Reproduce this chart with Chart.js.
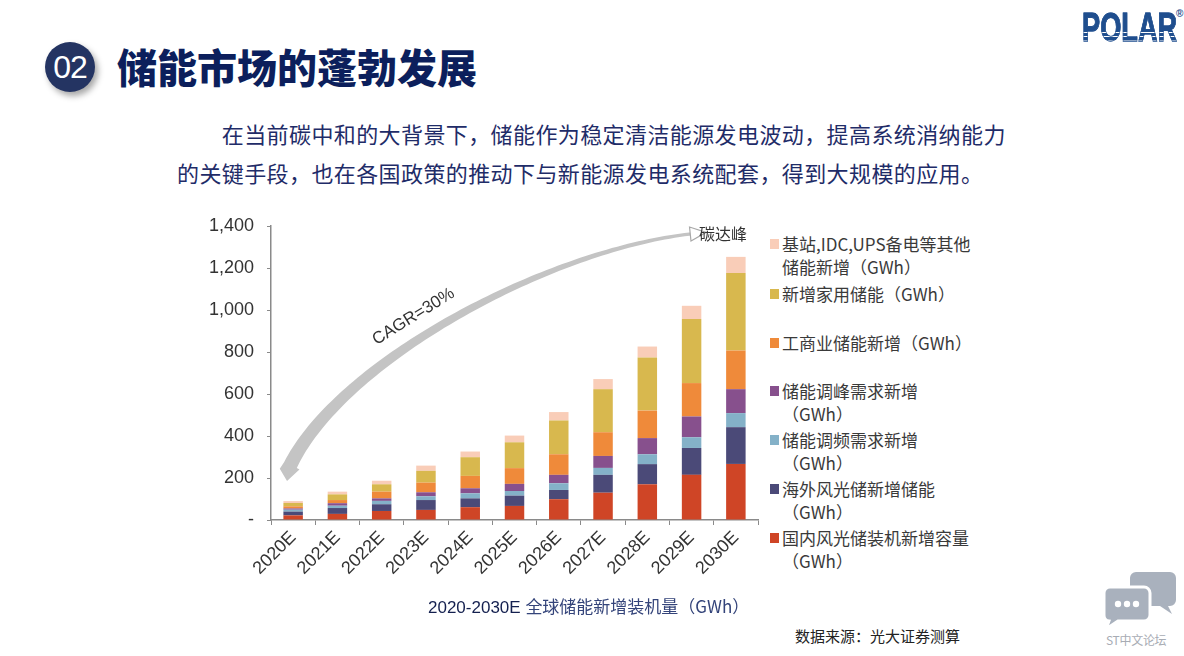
<!DOCTYPE html>
<html>
<head>
<meta charset="utf-8">
<script src="https://cdn.jsdelivr.net/npm/chart.js@4.4.1/dist/chart.umd.min.js"></script>
<style>
  html, body { margin:0; padding:0; background:#fff; }
  body { width:1184px; height:656px; position:relative; overflow:hidden; font-family:"Noto Sans CJK SC","Noto Sans",sans-serif; }
  .abs { position:absolute; }
  #badge { left:45px; top:42px; width:50px; height:50px; border-radius:50%; background:#243462;
           box-shadow:3px 4px 6px rgba(0,0,0,0.35); color:#fff; font:32px "Liberation Sans",Arial,sans-serif;
           display:flex; align-items:center; justify-content:center; letter-spacing:-1px; }
  #title { left:117px; top:44px; font-size:40px; line-height:44px; font-weight:900; color:#0c1f5c; letter-spacing:0px; }
  #para { left:177px; top:114px; font-size:22px; line-height:39px; color:#1f2c68; letter-spacing:0.4px; white-space:nowrap; }
  #logo { left:1082px; top:5px; font:900 40px "Liberation Sans",Arial,sans-serif; letter-spacing:0px;
          transform:scaleX(0.68); transform-origin:left top; line-height:44px;
          -webkit-text-stroke:0.8px #1f4e8e;
          background:linear-gradient(to bottom,#1f4e8e 0px,#1f4e8e 27px,#fff 27px,#fff 28.5px,#1f4e8e 28.5px,#1f4e8e 31px,#fff 31px,#fff 32.5px,#1f4e8e 32.5px,#1f4e8e 35px,#fff 35px,#fff 36.5px,#1f4e8e 36.5px);
          -webkit-background-clip:text; background-clip:text; color:transparent; }
  #reg { left:1176px; top:8px; font:bold 10px "Liberation Sans",Arial,sans-serif; color:#1f4e8e; }
  #chartBox { left:200px; top:200px; width:570px; height:400px; }
  .lg { position:absolute; left:770px; font-size:17px; line-height:23px; color:#3a3a3a; white-space:nowrap; }
  .lg .sq { position:absolute; left:0; top:7px; width:9px; height:10px; }
  .lg .tx { position:absolute; left:12px; top:0; }
  #caption { left:428px; top:594px; font-size:17px; line-height:24px; white-space:nowrap; }
  #caption .a { color:#14204f; font-family:"Liberation Sans",Arial,sans-serif; }
  #caption .b { color:#34447a; }
  #source { left:795px; top:625px; font-size:15px; line-height:22px; color:#222; white-space:nowrap; }
  #wm { left:1106px; top:631px; font-size:12px; line-height:18px; color:#a8acb4; white-space:nowrap; letter-spacing:-0.3px; }
</style>
</head>
<body>
<div id="badge" class="abs">02</div>
<div id="title" class="abs">储能市场的蓬勃发展</div>
<div id="para" class="abs">　　在当前碳中和的大背景下，储能作为稳定清洁能源发电波动，提高系统消纳能力<br>的关键手段，也在各国政策的推动下与新能源发电系统配套，得到大规模的应用。</div>
<div id="logo" class="abs">POLAR</div>
<div id="reg" class="abs">®</div>

<div id="chartBox" class="abs"><canvas id="c"></canvas></div>
<div id="legend"></div>

<div id="caption" class="abs"><span class="a">2020-2030E </span><span class="b">全球储能新增装机量（GWh）</span></div>
<div id="source" class="abs">数据来源：光大证券测算</div>

<svg class="abs" style="left:1100px;top:568px" width="84" height="64" viewBox="0 0 84 64">
  <path d="M36 4 h34 a6 6 0 0 1 6 6 v22 a6 6 0 0 1 -6 6 h-2 l4 8 l-12 -8 h-24 a6 6 0 0 1 -6 -6 v-22 a6 6 0 0 1 6 -6 z" fill="#a9b1bd"/>
  <path d="M10 19 h34 a6 6 0 0 1 6 6 v22 a6 6 0 0 1 -6 6 h-26 l-12 8 l3 -8 a6 6 0 0 1 -5 -6 v-22 a6 6 0 0 1 6 -6 z" fill="#a9b1bd" stroke="#fff" stroke-width="3"/>
  <circle cx="18" cy="36" r="3.2" fill="#fff"/>
  <circle cx="27" cy="36" r="3.2" fill="#fff"/>
  <circle cx="36" cy="36" r="3.2" fill="#fff"/>
</svg>
<div id="wm" class="abs">ST中文论坛</div>

<script>
// ---- data ----
const categories = ['2020E','2021E','2022E','2023E','2024E','2025E','2026E','2027E','2028E','2029E','2030E'];
const domesticWindSolar = [22, 29, 43, 48, 61, 67, 99, 130, 170, 215, 267];   // 国内风光储装机新增容量
const overseasWindSolar = [18, 28, 32, 47, 42, 49, 44, 85, 96, 128, 175];     // 海外风光储新增储能
const freqRegulation   = [9, 11, 16, 18, 24, 22, 32, 33, 47, 51, 67];         // 储能调频需求新增
const peakShaving      = [6, 12, 12, 19, 24, 34, 40, 57, 77, 99, 114];        // 储能调峰需求新增
const commercial       = [10, 15, 32, 46, 59, 75, 98, 113, 131, 159, 184];    // 工商业储能新增
const household        = [16, 27, 35, 56, 89, 123, 161, 205, 253, 305, 369];  // 新增家用储能
const otherBackup      = [9, 13, 17, 25, 27, 32, 40, 48, 52, 63, 77];         // 基站,IDC,UPS备电等其他
const yTicks = [0, 200, 400, 600, 800, 1000, 1200, 1400];

const seriesNames = [
  '国内风光储装机新增容量\n（GWh）',
  '海外风光储新增储能\n（GWh）',
  '储能调频需求新增\n（GWh）',
  '储能调峰需求新增\n（GWh）',
  '工商业储能新增（GWh）',
  '新增家用储能（GWh）',
  '基站,IDC,UPS备电等其他\n储能新增（GWh）'
];
const seriesValues = [domesticWindSolar, overseasWindSolar, freqRegulation, peakShaving, commercial, household, otherBackup];
const seriesColors = ['#cf4526', '#4b4a78', '#84b1c8', '#87508d', '#ef8a3a', '#d8b84e', '#f9cdb8'];
// legend first-line centres (top to bottom: other, household, commercial, peak, freq, overseas, domestic)
const legendY = [243, 293, 342, 390, 439, 488, 537];

Chart.defaults.font.family = "'Liberation Sans', Arial, sans-serif";

const annot = {
  id: 'annot',
  beforeDatasetsDraw(chart) {
    const ctx = chart.ctx, xs = chart.scales.x, ys = chart.scales.y;
    const P = (i, v) => [xs.getPixelForValue(i), ys.getPixelForValue(v)];
    const p0 = P(9.06, 1364), p1 = P(5.8, 1292), p2 = P(1.1, 760), p3 = P(-0.06, 262);
    const bz = t => {
      const a = (1-t)*(1-t)*(1-t), b = 3*(1-t)*(1-t)*t, c = 3*(1-t)*t*t, d = t*t*t;
      return [a*p0[0]+b*p1[0]+c*p2[0]+d*p3[0], a*p0[1]+b*p1[1]+c*p2[1]+d*p3[1]];
    };
    const dz = t => {
      const a = 3*(1-t)*(1-t), b = 6*(1-t)*t, c = 3*t*t;
      return [a*(p1[0]-p0[0])+b*(p2[0]-p1[0])+c*(p3[0]-p2[0]), a*(p1[1]-p0[1])+b*(p2[1]-p1[1])+c*(p3[1]-p2[1])];
    };
    const N = 90, left = [], right = [];
    for (let k = 0; k <= N; k++) {
      const t = k / N, p = bz(t), d = dz(t), L = Math.hypot(d[0], d[1]);
      const nx = -d[1]/L, ny = d[0]/L, w = 1.6 + 5.4*Math.pow(t, 1.3);
      left.push([p[0]+nx*w, p[1]+ny*w]); right.push([p[0]-nx*w, p[1]-ny*w]);
    }
    // pointed, slanted end at the bottom-left
    const d1 = dz(1), L1 = Math.hypot(d1[0], d1[1]), ux = d1[0]/L1, uy = d1[1]/L1;
    const e = bz(1), nx1 = -uy, ny1 = ux;
    const tip = [e[0] + ux*16 - nx1*4, e[1] + uy*16 - ny1*4];
    const notch = [e[0] + ux*8 + nx1*8, e[1] + uy*8 + ny1*8];
    ctx.save();
    ctx.fillStyle = '#c4c4c4';
    ctx.beginPath();
    left.forEach((q, i) => i ? ctx.lineTo(q[0], q[1]) : ctx.moveTo(q[0], q[1]));
    ctx.lineTo(notch[0], notch[1]);
    ctx.lineTo(tip[0], tip[1]);
    const r1 = right[right.length - 1];
    ctx.lineTo(r1[0] - nx1*3, r1[1] - ny1*3);
    for (let i = right.length - 1; i >= 0; i--) ctx.lineTo(right[i][0], right[i][1]);
    ctx.closePath(); ctx.fill();
    // top-right hollow arrow head
    const d0 = dz(0), L0 = Math.hypot(d0[0], d0[1]), vx = -d0[0]/L0, vy = -d0[1]/L0;
    const s = bz(0);
    ctx.beginPath();
    ctx.moveTo(s[0] - vy*7 - vx*4, s[1] + vx*7 - vy*4);
    ctx.lineTo(s[0] + vx*12, s[1] + vy*12);
    ctx.lineTo(s[0] + vy*7 - vx*4, s[1] - vx*7 - vy*4);
    ctx.closePath();
    ctx.fillStyle = '#fff'; ctx.fill();
    ctx.strokeStyle = '#a8a8a8'; ctx.lineWidth = 1.2; ctx.stroke();
    // CAGR label
    const c = P(2.72, 968);
    ctx.translate(c[0], c[1]); ctx.rotate(-32 * Math.PI / 180);
    ctx.fillStyle = '#333'; ctx.font = "17px 'Liberation Sans', Arial, sans-serif";
    ctx.textAlign = 'center'; ctx.textBaseline = 'middle';
    ctx.fillText('CAGR=30%', 0, 0);
    ctx.restore();
    ctx.save();
    const t = P(9.17, 1362);
    ctx.fillStyle = '#333'; ctx.font = "16px 'Noto Sans CJK SC', sans-serif";
    ctx.textAlign = 'left'; ctx.textBaseline = 'middle';
    ctx.fillText('碳达峰', t[0], t[1]);
    ctx.restore();
  }
};

const chart = new Chart(document.getElementById('c'), {
  type: 'bar',
  data: {
    labels: categories,
    datasets: seriesNames.map((n, i) => ({
      label: n, data: seriesValues[i], backgroundColor: seriesColors[i],
      barPercentage: 0.44, categoryPercentage: 1.0, borderWidth: 0
    }))
  },
  options: {
    responsive: true, maintainAspectRatio: false, animation: false,
    layout: { padding: { top: 26, right: 12, left: 0, bottom: 0 } },
    plugins: { legend: { display: false }, tooltip: { enabled: false } },
    scales: {
      x: {
        stacked: true,
        grid: { drawOnChartArea: false, offset: true, tickLength: 5, color: '#8a8a8a' },
        border: { color: '#8a8a8a', width: 1.5 },
        ticks: { maxRotation: 45, minRotation: 45, autoSkip: false, color: '#333', font: { size: 18 }, padding: 2 },
        afterFit(s) { s.height = 80; }
      },
      y: {
        stacked: true, min: 0, max: 1400,
        afterBuildTicks(s) { s.ticks = yTicks.map(v => ({ value: v })); },
        grid: { drawOnChartArea: false, tickLength: 4, color: '#8a8a8a' },
        border: { color: '#8a8a8a', width: 1.5 },
        ticks: { color: '#333', font: { size: 18 }, padding: 13,
                 callback: v => v === 0 ? '-' : v.toLocaleString('en-US') },
        afterFit(s) { s.width = 71; }
      }
    }
  },
  plugins: [annot]
});

// HTML legend built from the chart's datasets (top of stack first)
const lgRoot = document.getElementById('legend');
chart.data.datasets.slice().reverse().forEach((ds, k) => {
  const el = document.createElement('div');
  el.className = 'lg';
  el.style.top = (legendY[k] - 11.5) + 'px';
  const sq = document.createElement('div'); sq.className = 'sq'; sq.style.background = ds.backgroundColor;
  const tx = document.createElement('div'); tx.className = 'tx'; tx.innerHTML = ds.label.split('\n').join('<br>');
  el.appendChild(sq); el.appendChild(tx); lgRoot.appendChild(el);
});
</script>
</body>
</html>
